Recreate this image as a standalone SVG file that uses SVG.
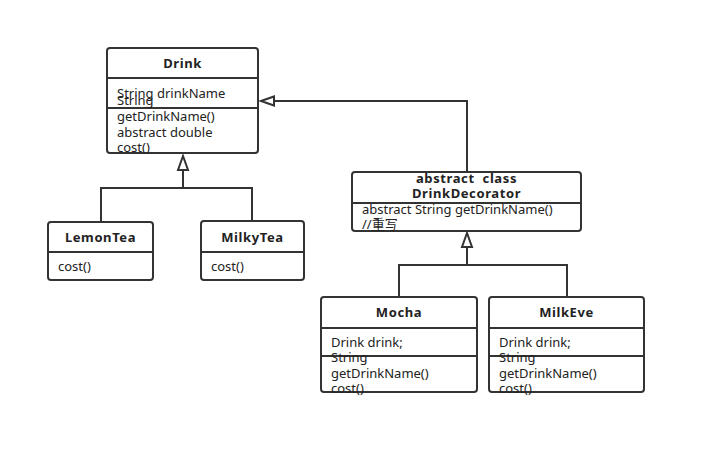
<svg xmlns="http://www.w3.org/2000/svg" width="707" height="455" viewBox="0 0 707 455">
<style>
.box{fill:#fff;stroke:#333;stroke-width:2}
.div{stroke:#333;stroke-width:2;fill:none}
.t{font-family:"Noto Sans","Noto Sans CJK SC",sans-serif;font-size:13px;fill:#222}
.b{font-family:"Noto Sans","Noto Sans CJK SC",sans-serif;font-size:13px;font-weight:bold;fill:#222;text-anchor:middle;letter-spacing:0.6px}
.c{stroke:#333;stroke-width:2;fill:none}
.head{fill:#fff;stroke:#333;stroke-width:2;stroke-linejoin:miter}
</style>
<rect width="707" height="455" fill="#fff"/>
<g id="connectors">
<path class="c" d="M101,222 V188 H252 V221 M183,188 V170"/>
<polygon class="head" points="183,156 178,170 188,170"/>
<path class="c" d="M467,172 V101 H274"/>
<polygon class="head" points="261,101 274,96.5 274,105.5"/>
<path class="c" d="M399,297 V265 H567 V297 M467,265 V247"/>
<polygon class="head" points="467,233 462,247 472,247"/>
</g>
<g id="Drink">
<rect class="box" x="107" y="48" width="151" height="105" rx="3"/>
<line class="div" x1="107" y1="78" x2="258" y2="78"/>
<line class="div" x1="107" y1="108" x2="258" y2="108"/>
<text class="b" x="182.5" y="68">Drink</text>
<text class="t" x="117" y="98">String drinkName</text>
<text class="t" x="117" y="105">String</text>
<text class="t" x="117" y="121">getDrinkName()</text>
<text class="t" x="117" y="137">abstract double</text>
<text class="t" x="117" y="152">cost()</text>
</g>
<g id="LemonTea">
<rect class="box" x="48" y="222" width="105" height="58" rx="3"/>
<line class="div" x1="48" y1="252" x2="153" y2="252"/>
<text class="b" x="100.5" y="242">LemonTea</text>
<text class="t" x="58" y="271">cost()</text>
</g>
<g id="MilkyTea">
<rect class="box" x="201" y="221" width="103" height="59" rx="3"/>
<line class="div" x1="201" y1="252" x2="304" y2="252"/>
<text class="b" x="252.5" y="242">MilkyTea</text>
<text class="t" x="211" y="271">cost()</text>
</g>
<g id="DrinkDecorator">
<rect class="box" x="352" y="172" width="229" height="59" rx="3"/>
<line class="div" x1="352" y1="203" x2="581" y2="203"/>
<text class="b" x="466.5" y="183" xml:space="preserve">abstract  class</text>
<text class="b" x="466.5" y="198">DrinkDecorator</text>
<text class="t" x="362" y="214">abstract String getDrinkName()</text>
<text class="t" x="362" y="229">//重写</text>
</g>
<g id="Mocha">
<rect class="box" x="321" y="297" width="156" height="95" rx="3"/>
<line class="div" x1="321" y1="328" x2="477" y2="328"/>
<line class="div" x1="321" y1="356" x2="477" y2="356"/>
<text class="b" x="399" y="317">Mocha</text>
<text class="t" x="331" y="347">Drink drink;</text>
<text class="t" x="331" y="362">String</text>
<text class="t" x="331" y="378">getDrinkName()</text>
<text class="t" x="331" y="393">cost()</text>
</g>
<g id="MilkEve">
<rect class="box" x="489" y="297" width="155" height="95" rx="3"/>
<line class="div" x1="489" y1="328" x2="644" y2="328"/>
<line class="div" x1="489" y1="356" x2="644" y2="356"/>
<text class="b" x="566.5" y="317">MilkEve</text>
<text class="t" x="499" y="347">Drink drink;</text>
<text class="t" x="499" y="362">String</text>
<text class="t" x="499" y="378">getDrinkName()</text>
<text class="t" x="499" y="393">cost()</text>
</g>
</svg>
